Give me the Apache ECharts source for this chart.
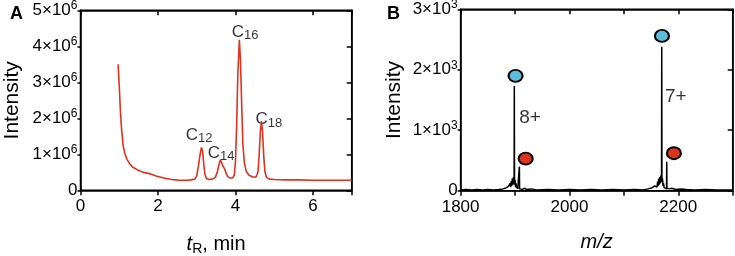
<!DOCTYPE html>
<html>
<head>
<meta charset="utf-8">
<script src="https://cdn.jsdelivr.net/npm/echarts@6/dist/echarts.min.js"></script>
<style>
html, body { margin: 0; padding: 0; background: #fff; }
#chart { width: 735px; height: 256px; }
</style>
</head>
<body>
<div id="chart"></div>
<script>
// panel A: chromatogram, intensity in units of 1e6
var tR = [0.97, 1.00, 1.03, 1.06, 1.10, 1.15, 1.20, 1.28, 1.35, 1.45, 1.55, 1.65, 1.75, 1.85, 1.95,
    2.05, 2.15, 2.25, 2.35, 2.45, 2.55, 2.65, 2.75, 2.85, 2.95, 3.00, 3.04, 3.08, 3.12, 3.15,
    3.18, 3.21, 3.25, 3.32, 3.40, 3.48, 3.53, 3.57, 3.61, 3.64, 3.68, 3.72, 3.76, 3.80, 3.86,
    3.92, 3.97, 4.00, 4.03, 4.06, 4.10, 4.13, 4.16, 4.19, 4.23, 4.28, 4.35, 4.45, 4.53, 4.58,
    4.61, 4.64, 4.67, 4.70, 4.73, 4.76, 4.80, 4.88, 5.0, 5.3, 5.6, 6.0, 6.5, 7.0];
var intA = [3.50, 2.90, 2.20, 1.70, 1.25, 1.00, 0.86, 0.72, 0.64, 0.58, 0.53, 0.49, 0.47, 0.44, 0.40,
    0.37, 0.34, 0.32, 0.30, 0.29, 0.28, 0.28, 0.28, 0.29, 0.31, 0.40, 0.65, 0.95, 1.19, 1.10,
    0.75, 0.45, 0.33, 0.30, 0.31, 0.36, 0.50, 0.70, 0.85, 0.78, 0.66, 0.60, 0.47, 0.38, 0.34,
    0.34, 0.42, 0.80, 1.80, 3.20, 4.18, 3.60, 2.40, 1.30, 0.75, 0.52, 0.42, 0.37, 0.37, 0.50,
    0.95, 1.60, 1.92, 1.60, 0.95, 0.52, 0.36, 0.31, 0.30, 0.29, 0.29, 0.28, 0.28, 0.28];
var peakNames = ['12', '14', '16', '18'];
var peakLabelT = [3.06, 3.63, 4.25, 4.86];
var peakLabelI = [1.54, 1.04, 4.40, 1.96];

// panel B: mass spectrum, intensity in units of 1e3
var mz = [1800, 1810, 1820, 1830, 1840, 1850, 1860, 1870, 1878, 1884, 1888, 1890, 1891, 1892, 1893,
    1894, 1895, 1896, 1897, 1898.3, 1898.7, 1899.1, 1900, 1901, 1902, 1903, 1904, 1905, 1907.6,
    1908, 1908.4, 1910, 1913, 1917, 1922, 1930, 1940, 1960, 1980, 2000, 2020, 2040, 2060, 2080,
    2100, 2120, 2135, 2145, 2152, 2157, 2159, 2160, 2161, 2162, 2163, 2164, 2165, 2166, 2167,
    2168, 2169.2, 2169.6, 2170.0, 2171, 2172, 2173, 2174, 2176, 2178.4, 2178.8, 2179.2, 2181,
    2184, 2188, 2195, 2205, 2215, 2230, 2250, 2270, 2300];
var intB = [0.01, 0.02, 0.01, 0.02, 0.01, 0.02, 0.01, 0.02, 0.03, 0.05, 0.07, 0.05, 0.12, 0.06, 0.16,
    0.08, 0.20, 0.10, 0.22, 0.12, 1.73, 0.10, 0.18, 0.06, 0.12, 0.04, 0.08, 0.03, 0.02,
    0.40, 0.03, 0.04, 0.02, 0.04, 0.02, 0.03, 0.01, 0.02, 0.01, 0.02, 0.01, 0.02, 0.01, 0.02,
    0.01, 0.02, 0.01, 0.03, 0.05, 0.08, 0.05, 0.11, 0.06, 0.15, 0.08, 0.20, 0.10, 0.22, 0.12,
    0.25, 0.15, 2.38, 0.14, 0.20, 0.08, 0.12, 0.05, 0.05, 0.03, 0.48, 0.04, 0.06,
    0.03, 0.04, 0.02, 0.03, 0.02, 0.01, 0.02, 0.01, 0.01];
var blueMz = [1901, 2170];
var blueInt = [1.90, 2.56];
var redMz = [1919.6, 2192];
var redInt = [0.53, 0.62];
var chargeText = ['8+', '7+'];
var chargeMz = [1927.5, 2195.3];
var chargeInt = [1.20, 1.55];

var FONT = 'Liberation Sans, Arial, sans-serif';
var TXT = '#000';

function zip(a, b) {
    var out = [];
    for (var i = 0; i < a.length; i++) out.push([a[i], b[i]]);
    return out;
}

function sciLabel(exp) {
    return function (v) {
        if (v === 0) return '{b|0}';
        return '{b|' + v + '×10}{s|' + exp + '}';
    };
}
var sciRich = {
    b: { fontSize: 17, fontFamily: FONT, color: TXT },
    s: { fontSize: 12, fontFamily: FONT, color: TXT, padding: [0, 0, 9, 0] }
};
function line() {
    return { show: true, onZero: false, lineStyle: { color: '#000', width: 1.5 } };
}
function tick(inside, len) {
    return { show: true, inside: inside, length: len, lineStyle: { color: '#000', width: 1.5 } };
}

function mainX(grid, min, max, interval, labelStep, name, rich) {
    return {
        gridIndex: grid, type: 'value', position: 'bottom', min: min, max: max, interval: interval,
        name: name, nameLocation: 'middle', nameGap: 42,
        nameTextStyle: { fontSize: 20, fontFamily: FONT, color: TXT, rich: rich },
        axisLine: line(), axisTick: tick(false, 5),
        axisLabel: {
            fontSize: 17, fontFamily: FONT, color: TXT, margin: 8,
            formatter: function (v) { return (v - min) % labelStep === 0 && v !== max ? String(v) : ''; }
        },
        splitLine: { show: false }
    };
}
function mirrorX(grid, min, max, interval) {
    return {
        gridIndex: grid, type: 'value', position: 'top', min: min, max: max, interval: interval,
        axisLine: line(), axisTick: tick(true, 5),
        axisLabel: { show: false }, splitLine: { show: false }
    };
}
function mainY(grid, max, exp, gap) {
    return {
        gridIndex: grid, type: 'value', position: 'left', min: 0, max: max, interval: 1,
        name: 'Intensity', nameLocation: 'middle', nameGap: gap,
        nameTextStyle: { fontSize: 21, fontFamily: FONT, color: TXT },
        axisLine: line(), axisTick: tick(false, 3),
        axisLabel: { formatter: sciLabel(exp), rich: sciRich, margin: 3 },
        splitLine: { show: false }
    };
}
function mirrorY(grid, max) {
    return {
        gridIndex: grid, type: 'value', position: 'right', min: 0, max: max, interval: 1,
        axisLine: line(), axisTick: tick(true, 5),
        axisLabel: { show: false }, splitLine: { show: false }
    };
}

var labelRich = {
    c: { fontSize: 17, fontFamily: FONT, color: TXT },
    sub: { fontSize: 13, fontFamily: FONT, color: TXT, padding: [8, 0, 0, 0] }
};
var peakLabels = peakNames.map(function (n, i) {
    return { value: [peakLabelT[i], peakLabelI[i]], name: n };
});
var chargeLabels = chargeText.map(function (n, i) {
    return { value: [chargeMz[i], chargeInt[i]], name: n };
});
var dots = [];
blueMz.forEach(function (m, i) {
    dots.push({ value: [m, blueInt[i]], itemStyle: { color: '#5bbcdb' } });
});
redMz.forEach(function (m, i) {
    dots.push({ value: [m, redInt[i]], itemStyle: { color: '#db3320' } });
});

var panelTitle = { fontSize: 18, fontWeight: 'bold', fontFamily: FONT, color: '#000' };
var myChart = echarts.init(document.getElementById('chart'), null, { renderer: 'canvas' });
var option = {
    animation: false,
    title: [
        { text: 'A', left: 10, top: 5, padding: 0, textStyle: panelTitle },
        { text: 'B', left: 387, top: 5, padding: 0, textStyle: panelTitle }
    ],
    grid: [
        { left: 80.5, right: 383.3, top: 10.3, bottom: 65.7, outerBoundsMode: 'none',
          show: true, borderColor: '#000', borderWidth: 1.5, backgroundColor: 'transparent' },
        { left: 460.6, right: 2.3, top: 9.3, bottom: 65.3, outerBoundsMode: 'none',
          show: true, borderColor: '#000', borderWidth: 1.5, backgroundColor: 'transparent' }
    ],
    xAxis: [
        mainX(0, 0, 7, 2, 2, '{i|t}{r|R}{n|, min}', {
            i: { fontSize: 20, fontStyle: 'italic', fontFamily: FONT, color: TXT },
            r: { fontSize: 14, fontFamily: FONT, color: TXT, padding: [10, 0, 0, 0] },
            n: { fontSize: 20, fontFamily: FONT, color: TXT }
        }),
        mirrorX(0, 0, 7, 2),
        mainX(1, 1800, 2300, 100, 200, 'm/z', null),
        mirrorX(1, 1800, 2300, 100)
    ],
    yAxis: [
        mainY(0, 5, 6, 58),
        mirrorY(0, 5),
        mainY(1, 3, 3, 56),
        mirrorY(1, 3)
    ],
    series: [
        {
            type: 'line', xAxisIndex: 0, yAxisIndex: 0, data: zip(tR, intA),
            showSymbol: false, lineStyle: { color: '#e0321e', width: 1.6 }
        },
        {
            // bound to the mirror axes (same range) so they get drawn
            type: 'scatter', xAxisIndex: 1, yAxisIndex: 1, data: peakLabels, symbolSize: 0,
            label: {
                show: true, position: 'inside', rich: labelRich,
                formatter: function (p) { return '{c|C}{sub|' + p.name + '}'; }
            }
        },
        {
            type: 'line', xAxisIndex: 2, yAxisIndex: 2, data: zip(mz, intB),
            showSymbol: false, lineStyle: { color: '#000', width: 1.5 }
        },
        {
            type: 'scatter', xAxisIndex: 3, yAxisIndex: 3, data: dots, symbol: 'circle',
            symbolSize: [14, 12], itemStyle: { borderColor: '#000', borderWidth: 2, opacity: 1 }
        },
        {
            type: 'scatter', xAxisIndex: 2, yAxisIndex: 2, data: chargeLabels, symbolSize: 0,
            label: {
                show: true, position: 'inside', fontSize: 19, fontFamily: FONT, color: TXT,
                formatter: function (p) { return p.name; }
            }
        }
    ]
};
// m/z axis title is italic
option.xAxis[2].nameTextStyle.fontStyle = 'italic';
myChart.setOption(option);
</script>
</body>
</html>
